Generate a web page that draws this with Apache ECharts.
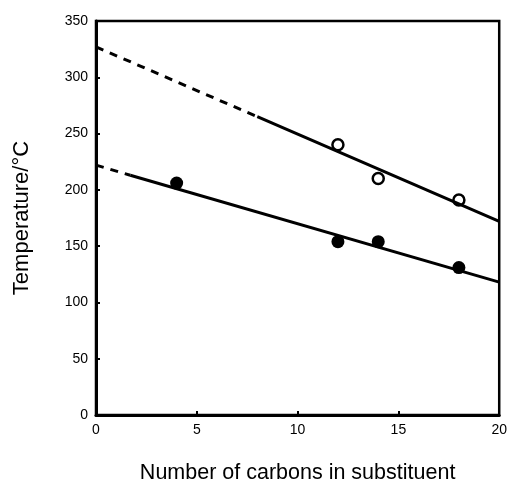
<!DOCTYPE html>
<html>
<head>
<meta charset="utf-8">
<script src="https://cdn.jsdelivr.net/npm/echarts@6/dist/echarts.min.js"></script>
<style>
  html, body { margin: 0; padding: 0; background: #fff; }
  #chart { width: 510px; height: 489px; }
</style>
</head>
<body>
<div id="chart"></div>
<script>
// measured points
const openPts = [[12, 240], [14, 210], [18, 191]]
const filledPts = [[4, 206], [12, 154], [14, 154], [18, 131]]

// fitted lines (dashed extrapolation + solid part)
const upperDash = [[0, 327], [8, 265]]
const upperSolid = [[8, 265], [20, 172]]
const lowerDash = [[0, 222], [1.7, 213]]
const lowerSolid = [[1.7, 213], [20, 118]]

const font = 'Liberation Sans, Arial, Helvetica, sans-serif'

const chart = echarts.init(document.getElementById('chart'))

const lineStyle = (type) => ({ color: '#000', width: 3, type: type, cap: 'butt' })

chart.setOption({
  animation: false,
  grid: {
    left: 96, right: 7, top: 21, bottom: 67,
    show: true, borderColor: '#000', borderWidth: 2.5
  },
  xAxis: {
    type: 'value', min: 0, max: 20, interval: 5,
    name: 'Number of carbons in substituent',
    nameLocation: 'middle', nameGap: 47,
    nameTextStyle: { fontFamily: font, fontSize: 21.5, color: '#000' },
    axisLine: { lineStyle: { color: '#000', width: 3 } },
    axisTick: { inside: true, length: 4, lineStyle: { color: '#000', width: 2 } },
    axisLabel: { fontFamily: font, fontSize: 14, color: '#000', margin: 8 },
    splitLine: { show: false }
  },
  yAxis: {
    type: 'value', min: 0, max: 350, interval: 50,
    name: 'Temperature/°C',
    nameLocation: 'middle', nameGap: 63,
    nameTextStyle: { fontFamily: font, fontSize: 22, color: '#000' },
    axisLine: { show: true, lineStyle: { color: '#000', width: 3 } },
    axisTick: { inside: true, length: 4, lineStyle: { color: '#000', width: 2 } },
    axisLabel: { fontFamily: font, fontSize: 14, color: '#000', margin: 8 },
    splitLine: { show: false }
  },
  series: [
    { type: 'line', data: upperDash, symbol: 'none', lineStyle: lineStyle([8, 7]) },
    { type: 'line', data: upperSolid, symbol: 'none', lineStyle: lineStyle('solid') },
    { type: 'line', data: lowerDash, symbol: 'none', lineStyle: lineStyle([8, 7]) },
    { type: 'line', data: lowerSolid, symbol: 'none', lineStyle: lineStyle('solid') },
    {
      type: 'scatter', data: openPts, symbol: 'circle', symbolSize: 11,
      itemStyle: { color: '#fff', borderColor: '#000', borderWidth: 2.5, opacity: 1 }
    },
    {
      type: 'scatter', data: filledPts, symbol: 'circle', symbolSize: 13,
      itemStyle: { color: '#000', opacity: 1 }
    }
  ]
})
</script>
</body>
</html>
